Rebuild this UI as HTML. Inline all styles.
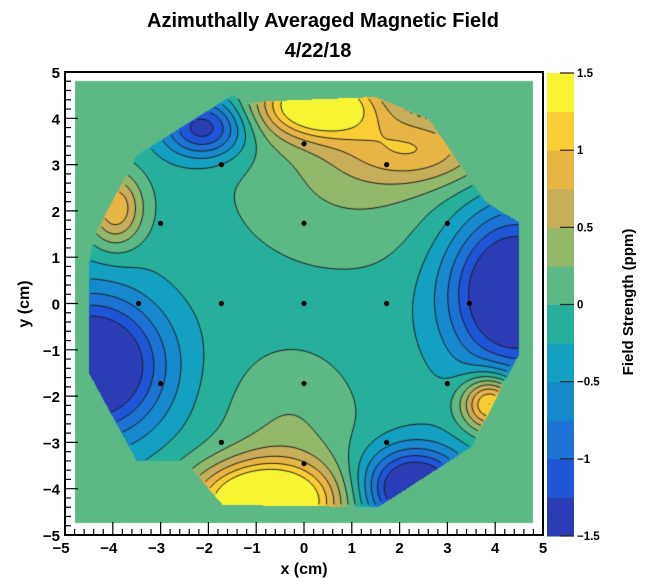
<!DOCTYPE html>
<html><head><meta charset="utf-8">
<style>
body{margin:0;background:#fff;}
#wrap{position:relative;width:647px;height:584px;overflow:hidden;font-family:"Liberation Sans",Arial,sans-serif;}
canvas{position:absolute;left:0;top:0;}
svg{position:absolute;left:0;top:0;}
text{font-family:"Liberation Sans",Arial,sans-serif;font-weight:bold;fill:#000;}
</style></head>
<body>
<div id="wrap">
<canvas id="cv" width="647" height="584"></canvas>
<svg id="sv" width="647" height="584">
<text x="323" y="27" font-size="20" text-anchor="middle">Azimuthally Averaged Magnetic Field</text>
<text x="318" y="57" font-size="20" text-anchor="middle">4/22/18</text>
<text x="304" y="574" font-size="16" text-anchor="middle">x (cm)</text>
<text x="0" y="0" font-size="16" text-anchor="middle" transform="translate(29,304) rotate(-90)">y (cm)</text>
<text x="0" y="0" font-size="15" text-anchor="middle" transform="translate(633,302) rotate(-90)">Field Strength (ppm)</text>
</svg>
</div>
<script>
// Field model: lobes of the magnetic field (cm, ppm)
const lobeX   = [ 4.4,  -4.45,  2.3, -2.1,  0.3,  2.4,  1.0, -0.8, -0.3, -3.95,  3.9];
const lobeY   = [ 0.25, -1.35, -4.0,  3.8,  4.3,  3.35, 2.5, -4.3, -2.7,  2.05, -2.15];
const lobeAmp = [-1.9,  -1.9, -1.8, -1.3,  1.9,  0.9,  0.38, 2.3,  0.38, 1.1,  1.6];
const lobeSx  = [ 0.95,  1.05, 0.75, 0.6,  0.9,  1.2,  1.7,  1.05, 1.0,  0.4,  0.42];
const lobeSy  = [ 1.2,   1.05, 0.6,  0.45, 0.5,  0.55, 1.2,  0.6,  1.15, 0.55, 0.42];
const baseline = -0.13;
// data hull (cm)
const hullX = [-1.5,-1.2, 1.5, 2.6, 3.8, 4.1, 4.5, 4.5, 4.4, 3.5, 1.55,-1.7,-2.5,-3.5,-4.5,-4.5,-4.4,-3.5];
const hullY = [ 4.5, 4.35,4.46,4.0, 2.2, 2.0, 1.76,-1.1,-1.3,-3.1,-4.4,-4.35,-3.4,-3.4,-1.5, 0.85,1.45,3.2];
const levels = [-1.5,-1.25,-1,-0.75,-0.5,-0.25,0,0.25,0.5,0.75,1,1.25,1.5];
const levelColors = ["#2a3db5","#1f56d8","#1d72d3","#1589cb","#14a0c0","#26b09b","#5cb885","#93b86a","#c8ad5a","#e8b545","#fbcd35","#f7f433"];
const ptX = [0,1.73,-1.73,0,3,-3,-3.46,-1.73,0,1.73,3.46,-3,0,3,-1.73,1.73,0];
const ptY = [3.45,3,3,1.73,1.73,1.73,0,0,0,0,0,-1.73,-1.73,-1.73,-3,-3,-3.46];
const xTicks = [-5,-4,-3,-2,-1,0,1,2,3,4,5];
const yTicks = [-5,-4,-3,-2,-1,0,1,2,3,4,5];
const zTicks = [-1.5,-1,-0.5,0,0.5,1,1.5];

const X0=65,X1=543,Y0=535,Y1=72;
const sx=v=>X0+(v+5)/10*(X1-X0);
const sy=v=>Y0-(v+5)/10*(Y0-Y1);
const ix=p=>(p-X0)/(X1-X0)*10-5;
const iy=p=>(Y0-p)/(Y0-Y1)*10-5;
function field(x,y){
  let v=baseline;
  for(let i=0;i<lobeX.length;i++){
    const dx=(x-lobeX[i])/lobeSx[i],dy=(y-lobeY[i])/lobeSy[i];
    v+=lobeAmp[i]*Math.exp(-0.5*(dx*dx+dy*dy));
  }
  return Math.max(-1.49,Math.min(1.49,v));
}
function inside(x,y){
  let c=false;const n=hullX.length;
  for(let i=0,j=n-1;i<n;j=i++){
    if(((hullY[i]>y)!==(hullY[j]>y))&&(x<(hullX[j]-hullX[i])*(y-hullY[i])/(hullY[j]-hullY[i])+hullX[i]))c=!c;
  }
  return c;
}
function colorOf(v){let k=Math.floor((v+1.5)/0.25);k=Math.max(0,Math.min(11,k));return levelColors[k];}
function hex(c){return [parseInt(c.substr(1,2),16),parseInt(c.substr(3,2),16),parseInt(c.substr(5,2),16)];}

const cv=document.getElementById('cv');const ctx=cv.getContext('2d');
const gx0=sx(-4.8),gx1=sx(4.8),gy0=sy(4.8),gy1=sy(-4.75);
const img=ctx.createImageData(647,584);
const bg=hex("#5cb885");
for(let py=Math.round(gy0);py<Math.round(gy1);py++){
  for(let px=Math.round(gx0);px<Math.round(gx1);px++){
    const x=ix(px+0.5),y=iy(py+0.5);
    let c=bg;
    if(inside(x,y)) c=hex(colorOf(field(x,y)));
    const o=(py*647+px)*4;img.data[o]=c[0];img.data[o+1]=c[1];img.data[o+2]=c[2];img.data[o+3]=255;
  }
}
ctx.putImageData(img,0,0);
const step=0.06;const N=Math.ceil(9.4/step);
const grid=[];
for(let j=0;j<=N;j++){grid[j]=[];for(let i=0;i<=N;i++){const x=-4.7+i*step,y=-4.7+j*step;grid[j][i]=inside(x,y)?field(x,y):null;}}
ctx.strokeStyle="#1a1a1a";ctx.lineWidth=1;
ctx.beginPath();
for(let li=1;li<levels.length-1;li++){
  const L=levels[li];
  for(let j=0;j<N;j++)for(let i=0;i<N;i++){
    const a=grid[j][i],b=grid[j][i+1],c=grid[j+1][i+1],d=grid[j+1][i];
    if(a===null||b===null||c===null||d===null)continue;
    const x=-4.7+i*step,y=-4.7+j*step;const pts=[];
    const e=(v1,v2,x1,y1,x2,y2)=>{if((v1-L)*(v2-L)<0){const t=(L-v1)/(v2-v1);pts.push([x1+t*(x2-x1),y1+t*(y2-y1)]);}};
    e(a,b,x,y,x+step,y);e(b,c,x+step,y,x+step,y+step);e(c,d,x+step,y+step,x,y+step);e(d,a,x,y+step,x,y);
    for(let k=0;k+1<pts.length;k+=2){ctx.moveTo(sx(pts[k][0]),sy(pts[k][1]));ctx.lineTo(sx(pts[k+1][0]),sy(pts[k+1][1]));}
  }
}
ctx.stroke();

const NS="http://www.w3.org/2000/svg";const sv=document.getElementById('sv');
function mk(t,at,par){const e=document.createElementNS(NS,t);for(const k in at)e.setAttribute(k,at[k]);(par||sv).appendChild(e);return e;}
for(let i=0;i<ptX.length;i++){
  const c=mk('circle',{cx:sx(ptX[i]),cy:sy(ptY[i]),r:2.6,fill:'#000'});
  
  
}
const fr=mk('rect',{x:X0,y:Y1,width:X1-X0,height:Y0-Y1,fill:'none',stroke:'#000','stroke-width':2});


let tp='';
for(let v=-5;v<=5.001;v+=0.2){const m=Math.abs(v-Math.round(v))<1e-6;const l=m?13:6;
  tp+=`M${sx(v)},${Y0}V${Y0-l}`;tp+=`M${X0},${sy(v)}H${X0+l}`;}
const tk=mk('path',{d:tp,stroke:'#000','stroke-width':1.2,fill:'none'});


const fmt=v=>v<0?'\u2212'+Math.abs(v):String(v);
xTicks.forEach(v=>{const t=mk('text',{x:sx(v)-(v<0?4:0),y:553,'font-size':15,'text-anchor':'middle'});t.textContent=fmt(v);
  
  });
yTicks.forEach(v=>{const t=mk('text',{x:60,y:sy(v)+6,'font-size':15,'text-anchor':'end'});t.textContent=fmt(v);
  
  });
const CB0=547,CB1=574,CBT=73,CBB=536;
const cz=v=>CBB-(v+1.5)/3*(CBB-CBT);
for(let k=0;k<levelColors.length;k++){
  const r=mk('rect',{x:CB0,y:cz(levels[k+1]),width:CB1-CB0,height:cz(levels[k])-cz(levels[k+1])+0.5,fill:levelColors[k]});
  
  
}
let cp='';zTicks.forEach(v=>{cp+=`M${CB1},${cz(v)}H${CB1-14}`;});
const ct=mk('path',{d:cp,stroke:'#222','stroke-width':1.2});


zTicks.forEach(v=>{const t=mk('text',{x:577,y:cz(v)+4,'font-size':11.5,'text-anchor':'start'});t.textContent=fmt(v);
  
  });
</script>
</body></html>
